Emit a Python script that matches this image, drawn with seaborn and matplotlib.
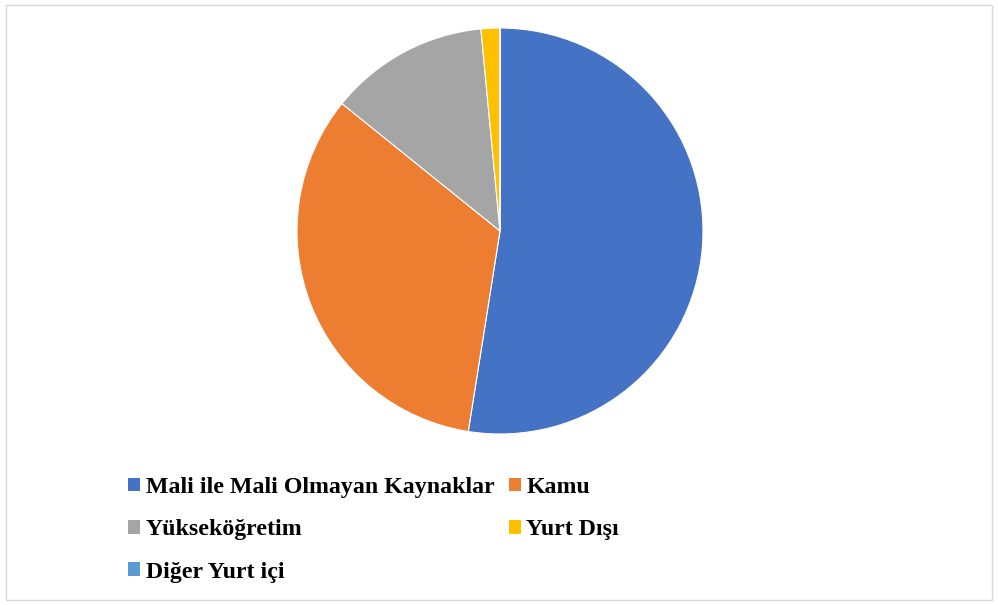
import matplotlib
matplotlib.use("Agg")
import matplotlib.pyplot as plt
import seaborn as sns
from matplotlib.patches import Rectangle, Patch

labels = ["Mali ile Mali Olmayan Kaynaklar", "Kamu", "Yükseköğretim", "Yurt Dışı", "Diğer Yurt içi"]
values = [52.5, 33.3, 12.7, 1.5, 0.0]
colors = ["#4472C4", "#ED7D31", "#A5A5A5", "#FFC000", "#5B9BD5"]

sns.set_theme(style="white")
plt.rcParams["font.family"] = ["Liberation Serif", "DejaVu Serif"]
plt.rcParams["text.color"] = "black"

fig = plt.figure(figsize=(9.98, 6.05), dpi=100)
fig.patch.set_facecolor("white")
fig.patches.append(Rectangle((6 / 998, 5 / 605), 986 / 998, 595 / 605, transform=fig.transFigure,
                             fill=False, edgecolor="#D9D9D9", linewidth=1))

ax = fig.add_axes([297 / 998, 171 / 605, 406 / 998, 406 / 605])
ax.pie(values, colors=colors, startangle=90, counterclock=False, radius=1,
       wedgeprops=dict(edgecolor="white", linewidth=0.8))
ax.set_xlim(-1, 1)
ax.set_ylim(-1, 1)
ax.set_aspect("equal")
ax.axis("off")

# row-wise order like the original legend
order = [0, 2, 4, 1, 3]
handles = [Patch(facecolor=colors[i], edgecolor="none") for i in order]
leg = fig.legend(handles, [labels[i] for i in order], ncol=2, loc="upper left",
                 bbox_to_anchor=(128 / 998, 1 - 477 / 605), frameon=False,
                 prop=dict(family="Liberation Serif", weight="bold", size=17.2),
                 handlelength=0.52, handleheight=0.52, handletextpad=0.22,
                 columnspacing=0.6, labelspacing=0.89, borderpad=0, borderaxespad=0)
for t in leg.get_texts():
    t.set_color("black")

fig.savefig("out.png", dpi=100)
